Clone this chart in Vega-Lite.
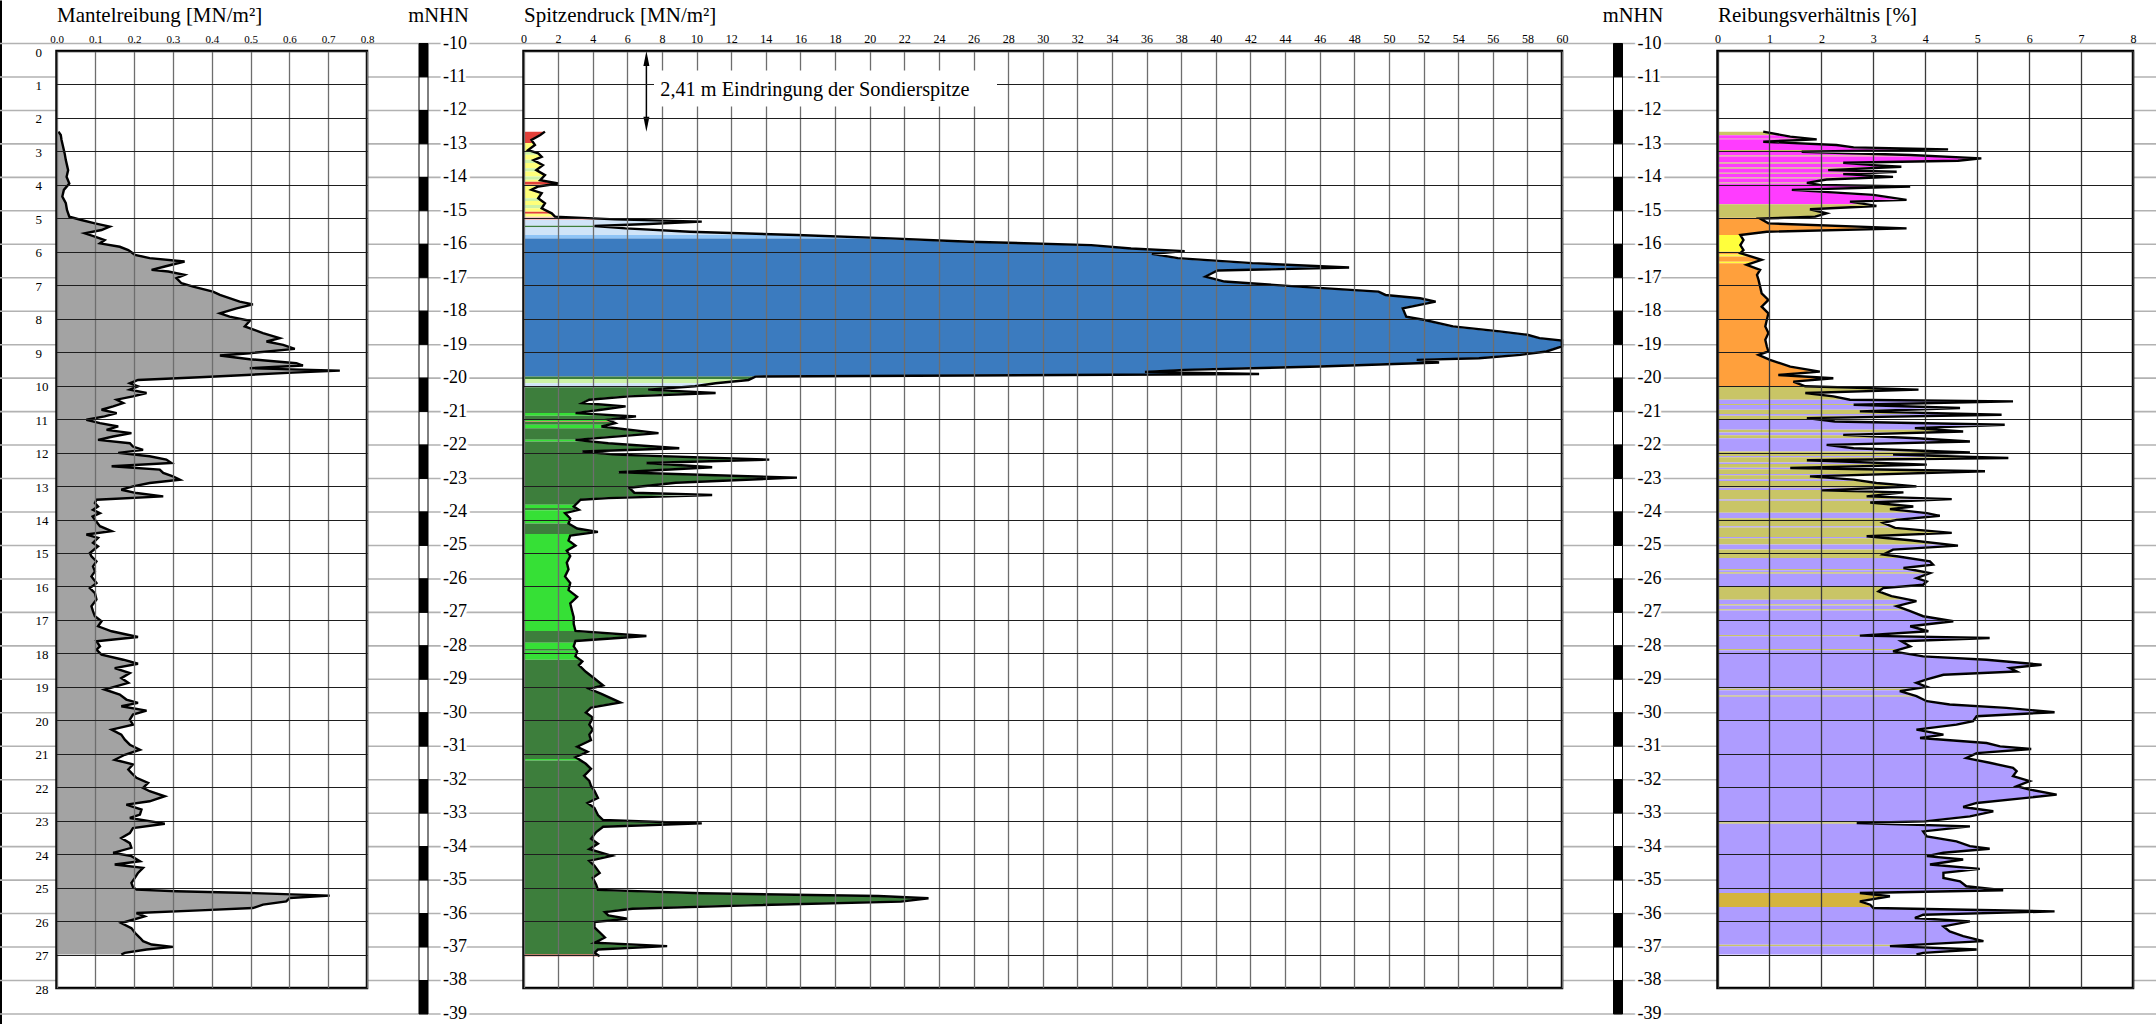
{
"$schema": "https://vega.github.io/schema/vega-lite/v6.json",
"width": 2156, "height": 1024,
"autosize": {"type": "none"},
"padding": 0,
"background": "white",
"config": {"view": {"stroke": null}, "font": "Liberation Serif", "axis": {"labelFont": "Liberation Serif", "titleFont": "Liberation Serif", "labelColor": "black", "titleColor": "black", "titleFontWeight": "normal"}, "text": {"font": "Liberation Serif"}},
"datasets": {
"mnhn": [{"m":-10},{"m":-11},{"m":-12},{"m":-13},{"m":-14},{"m":-15},{"m":-16},{"m":-17},{"m":-18},{"m":-19},{"m":-20},{"m":-21},{"m":-22},{"m":-23},{"m":-24},{"m":-25},{"m":-26},{"m":-27},{"m":-28},{"m":-29},{"m":-30},{"m":-31},{"m":-32},{"m":-33},{"m":-34},{"m":-35},{"m":-36},{"m":-37},{"m":-38},{"m":-39}],
"seg": [{"top":-10,"bot":-11,"k":"b"},{"top":-11,"bot":-12,"k":"w"},{"top":-12,"bot":-13,"k":"b"},{"top":-13,"bot":-14,"k":"w"},{"top":-14,"bot":-15,"k":"b"},{"top":-15,"bot":-16,"k":"w"},{"top":-16,"bot":-17,"k":"b"},{"top":-17,"bot":-18,"k":"w"},{"top":-18,"bot":-19,"k":"b"},{"top":-19,"bot":-20,"k":"w"},{"top":-20,"bot":-21,"k":"b"},{"top":-21,"bot":-22,"k":"w"},{"top":-22,"bot":-23,"k":"b"},{"top":-23,"bot":-24,"k":"w"},{"top":-24,"bot":-25,"k":"b"},{"top":-25,"bot":-26,"k":"w"},{"top":-26,"bot":-27,"k":"b"},{"top":-27,"bot":-28,"k":"w"},{"top":-28,"bot":-29,"k":"b"},{"top":-29,"bot":-30,"k":"w"},{"top":-30,"bot":-31,"k":"b"},{"top":-31,"bot":-32,"k":"w"},{"top":-32,"bot":-33,"k":"b"},{"top":-33,"bot":-34,"k":"w"},{"top":-34,"bot":-35,"k":"b"},{"top":-35,"bot":-36,"k":"w"},{"top":-36,"bot":-37,"k":"b"},{"top":-37,"bot":-38,"k":"w"},{"top":-38,"bot":-39,"k":"b"}],
"fs": [{"d":2.41,"v":0.005},{"d":2.51,"v":0.011},{"d":2.66,"v":0.013},{"d":2.86,"v":0.017},{"d":3.06,"v":0.021},{"d":3.26,"v":0.024},{"d":3.41,"v":0.027},{"d":3.56,"v":0.030},{"d":3.76,"v":0.026},{"d":3.96,"v":0.033},{"d":4.15,"v":0.019},{"d":4.35,"v":0.015},{"d":4.55,"v":0.024},{"d":4.75,"v":0.027},{"d":4.95,"v":0.033},{"d":5.05,"v":0.064},{"d":5.15,"v":0.099},{"d":5.25,"v":0.137},{"d":5.35,"v":0.116},{"d":5.45,"v":0.073},{"d":5.55,"v":0.099},{"d":5.65,"v":0.124},{"d":5.75,"v":0.112},{"d":5.85,"v":0.163},{"d":5.95,"v":0.185},{"d":6.09,"v":0.202},{"d":6.19,"v":0.240},{"d":6.29,"v":0.330},{"d":6.44,"v":0.279},{"d":6.54,"v":0.245},{"d":6.59,"v":0.288},{"d":6.69,"v":0.330},{"d":6.79,"v":0.309},{"d":6.94,"v":0.322},{"d":7.04,"v":0.352},{"d":7.19,"v":0.403},{"d":7.29,"v":0.421},{"d":7.49,"v":0.472},{"d":7.57,"v":0.506},{"d":7.69,"v":0.464},{"d":7.84,"v":0.421},{"d":7.94,"v":0.446},{"d":8.06,"v":0.498},{"d":8.23,"v":0.485},{"d":8.43,"v":0.532},{"d":8.58,"v":0.575},{"d":8.68,"v":0.541},{"d":8.78,"v":0.584},{"d":8.90,"v":0.614},{"d":9.03,"v":0.498},{"d":9.10,"v":0.421},{"d":9.21,"v":0.498},{"d":9.33,"v":0.618},{"d":9.40,"v":0.635},{"d":9.48,"v":0.498},{"d":9.55,"v":0.730},{"d":9.61,"v":0.609},{"d":9.68,"v":0.489},{"d":9.75,"v":0.369},{"d":9.83,"v":0.210},{"d":9.93,"v":0.189},{"d":10.02,"v":0.210},{"d":10.12,"v":0.189},{"d":10.22,"v":0.232},{"d":10.32,"v":0.197},{"d":10.42,"v":0.155},{"d":10.52,"v":0.172},{"d":10.62,"v":0.146},{"d":10.72,"v":0.116},{"d":10.82,"v":0.155},{"d":10.92,"v":0.124},{"d":11.02,"v":0.077},{"d":11.12,"v":0.112},{"d":11.22,"v":0.159},{"d":11.32,"v":0.129},{"d":11.42,"v":0.193},{"d":11.52,"v":0.146},{"d":11.62,"v":0.107},{"d":11.72,"v":0.189},{"d":11.82,"v":0.197},{"d":11.92,"v":0.223},{"d":12.01,"v":0.159},{"d":12.11,"v":0.240},{"d":12.21,"v":0.283},{"d":12.31,"v":0.296},{"d":12.41,"v":0.142},{"d":12.51,"v":0.266},{"d":12.61,"v":0.275},{"d":12.71,"v":0.300},{"d":12.81,"v":0.318},{"d":12.91,"v":0.240},{"d":13.01,"v":0.197},{"d":13.11,"v":0.167},{"d":13.21,"v":0.206},{"d":13.31,"v":0.275},{"d":13.41,"v":0.103},{"d":13.51,"v":0.099},{"d":13.61,"v":0.107},{"d":13.71,"v":0.094},{"d":13.81,"v":0.112},{"d":13.91,"v":0.093},{"d":14.01,"v":0.099},{"d":14.20,"v":0.112},{"d":14.35,"v":0.142},{"d":14.45,"v":0.077},{"d":14.55,"v":0.107},{"d":14.70,"v":0.094},{"d":14.80,"v":0.107},{"d":15.00,"v":0.086},{"d":15.10,"v":0.090},{"d":15.25,"v":0.103},{"d":15.40,"v":0.094},{"d":15.55,"v":0.099},{"d":15.70,"v":0.090},{"d":15.90,"v":0.103},{"d":16.05,"v":0.086},{"d":16.20,"v":0.099},{"d":16.39,"v":0.103},{"d":16.59,"v":0.090},{"d":16.74,"v":0.094},{"d":16.89,"v":0.099},{"d":17.04,"v":0.116},{"d":17.19,"v":0.107},{"d":17.34,"v":0.142},{"d":17.51,"v":0.210},{"d":17.64,"v":0.103},{"d":17.79,"v":0.112},{"d":17.89,"v":0.103},{"d":18.04,"v":0.116},{"d":18.19,"v":0.172},{"d":18.31,"v":0.210},{"d":18.44,"v":0.150},{"d":18.59,"v":0.189},{"d":18.74,"v":0.167},{"d":18.88,"v":0.185},{"d":19.08,"v":0.124},{"d":19.23,"v":0.163},{"d":19.38,"v":0.180},{"d":19.48,"v":0.210},{"d":19.58,"v":0.167},{"d":19.71,"v":0.232},{"d":19.83,"v":0.197},{"d":19.98,"v":0.189},{"d":20.13,"v":0.197},{"d":20.28,"v":0.142},{"d":20.43,"v":0.167},{"d":20.58,"v":0.176},{"d":20.73,"v":0.189},{"d":20.88,"v":0.215},{"d":21.03,"v":0.176},{"d":21.18,"v":0.150},{"d":21.32,"v":0.197},{"d":21.47,"v":0.185},{"d":21.57,"v":0.193},{"d":21.72,"v":0.206},{"d":21.87,"v":0.236},{"d":22.02,"v":0.223},{"d":22.12,"v":0.240},{"d":22.27,"v":0.279},{"d":22.42,"v":0.240},{"d":22.52,"v":0.180},{"d":22.67,"v":0.219},{"d":22.82,"v":0.215},{"d":22.92,"v":0.189},{"d":23.09,"v":0.279},{"d":23.22,"v":0.197},{"d":23.37,"v":0.189},{"d":23.52,"v":0.167},{"d":23.67,"v":0.189},{"d":23.81,"v":0.193},{"d":23.96,"v":0.146},{"d":24.06,"v":0.193},{"d":24.21,"v":0.215},{"d":24.31,"v":0.150},{"d":24.41,"v":0.223},{"d":24.56,"v":0.210},{"d":24.71,"v":0.202},{"d":24.86,"v":0.193},{"d":24.98,"v":0.197},{"d":25.06,"v":0.206},{"d":25.11,"v":0.309},{"d":25.16,"v":0.498},{"d":25.24,"v":0.704},{"d":25.31,"v":0.601},{"d":25.41,"v":0.592},{"d":25.51,"v":0.532},{"d":25.61,"v":0.506},{"d":25.68,"v":0.369},{"d":25.76,"v":0.206},{"d":25.86,"v":0.227},{"d":25.96,"v":0.197},{"d":26.06,"v":0.167},{"d":26.21,"v":0.193},{"d":26.35,"v":0.202},{"d":26.50,"v":0.215},{"d":26.60,"v":0.223},{"d":26.70,"v":0.245},{"d":26.77,"v":0.300},{"d":26.85,"v":0.232},{"d":26.95,"v":0.176},{"d":27.00,"v":0.167}],
"qc": [{"d":2.41,"v":1.24},{"d":2.51,"v":0.97},{"d":2.66,"v":0.46},{"d":2.81,"v":0.66},{"d":2.96,"v":0.27},{"d":3.06,"v":0.85},{"d":3.16,"v":1.05},{"d":3.26,"v":0.58},{"d":3.41,"v":1.12},{"d":3.56,"v":0.74},{"d":3.71,"v":1.24},{"d":3.86,"v":0.97},{"d":3.96,"v":2.01},{"d":4.05,"v":0.85},{"d":4.15,"v":0.46},{"d":4.25,"v":1.05},{"d":4.40,"v":0.85},{"d":4.55,"v":1.24},{"d":4.70,"v":1.05},{"d":4.85,"v":1.63},{"d":4.95,"v":1.82},{"d":5.03,"v":5.3},{"d":5.10,"v":10.3},{"d":5.17,"v":7.2},{"d":5.23,"v":4.1},{"d":5.30,"v":5.9},{"d":5.40,"v":9.6},{"d":5.50,"v":15.8},{"d":5.60,"v":21.2},{"d":5.70,"v":25.8},{"d":5.80,"v":32.8},{"d":5.90,"v":35.1},{"d":5.98,"v":38.2},{"d":6.06,"v":36.3},{"d":6.19,"v":37.8},{"d":6.34,"v":42.1},{"d":6.47,"v":47.7},{"d":6.56,"v":40.1},{"d":6.74,"v":39.4},{"d":6.89,"v":40.5},{"d":7.04,"v":44.8},{"d":7.19,"v":49.4},{"d":7.29,"v":49.8},{"d":7.39,"v":51.8},{"d":7.49,"v":52.7},{"d":7.69,"v":50.8},{"d":7.94,"v":51.0},{"d":8.03,"v":52.0},{"d":8.23,"v":53.7},{"d":8.38,"v":56.4},{"d":8.48,"v":58.0},{"d":8.58,"v":58.7},{"d":8.65,"v":60},{"d":8.83,"v":60},{"d":8.98,"v":59.1},{"d":9.08,"v":57.6},{"d":9.18,"v":55.2},{"d":9.23,"v":51.6},{"d":9.31,"v":52.9},{"d":9.43,"v":46.0},{"d":9.53,"v":38.2},{"d":9.59,"v":35.9},{"d":9.65,"v":42.5},{"d":9.73,"v":13.4},{"d":9.83,"v":13.0},{"d":9.93,"v":11.1},{"d":10.02,"v":9.9},{"d":10.12,"v":7.2},{"d":10.22,"v":11.1},{"d":10.32,"v":6.1},{"d":10.42,"v":3.8},{"d":10.52,"v":3.4},{"d":10.62,"v":5.9},{"d":10.72,"v":4.5},{"d":10.82,"v":3.0},{"d":10.92,"v":6.5},{"d":11.02,"v":4.9},{"d":11.12,"v":5.3},{"d":11.22,"v":4.5},{"d":11.42,"v":7.8},{"d":11.62,"v":3.0},{"d":11.72,"v":4.9},{"d":11.87,"v":9.0},{"d":11.97,"v":3.4},{"d":12.06,"v":5.3},{"d":12.21,"v":14.2},{"d":12.31,"v":7.1},{"d":12.44,"v":10.9},{"d":12.59,"v":5.5},{"d":12.75,"v":15.8},{"d":12.90,"v":8.8},{"d":13.05,"v":6.1},{"d":13.20,"v":6.4},{"d":13.27,"v":10.9},{"d":13.36,"v":4.9},{"d":13.41,"v":3.3},{"d":13.51,"v":3.1},{"d":13.61,"v":2.9},{"d":13.71,"v":3.2},{"d":13.81,"v":2.4},{"d":13.97,"v":2.7},{"d":14.12,"v":2.6},{"d":14.27,"v":3.1},{"d":14.37,"v":4.3},{"d":14.48,"v":2.7},{"d":14.63,"v":2.6},{"d":14.78,"v":3.0},{"d":14.93,"v":2.5},{"d":15.09,"v":2.7},{"d":15.29,"v":2.5},{"d":15.49,"v":2.6},{"d":15.70,"v":2.4},{"d":15.90,"v":2.7},{"d":16.11,"v":2.6},{"d":16.31,"v":3.1},{"d":16.51,"v":2.7},{"d":16.72,"v":2.8},{"d":16.92,"v":2.9},{"d":17.12,"v":2.9},{"d":17.33,"v":3.0},{"d":17.48,"v":7.1},{"d":17.63,"v":3.0},{"d":17.79,"v":2.9},{"d":17.94,"v":3.1},{"d":18.09,"v":3.0},{"d":18.24,"v":3.4},{"d":18.35,"v":3.2},{"d":18.55,"v":3.6},{"d":18.75,"v":4.1},{"d":18.96,"v":4.6},{"d":19.06,"v":3.8},{"d":19.21,"v":4.5},{"d":19.47,"v":5.6},{"d":19.62,"v":3.9},{"d":19.77,"v":3.6},{"d":19.92,"v":4.0},{"d":20.13,"v":3.8},{"d":20.28,"v":4.0},{"d":20.43,"v":3.8},{"d":20.59,"v":3.9},{"d":20.79,"v":3.1},{"d":20.94,"v":3.7},{"d":21.10,"v":3.0},{"d":21.30,"v":3.6},{"d":21.45,"v":3.9},{"d":21.66,"v":3.5},{"d":21.81,"v":3.8},{"d":21.96,"v":3.9},{"d":22.11,"v":4.1},{"d":22.32,"v":4.3},{"d":22.47,"v":3.7},{"d":22.62,"v":4.1},{"d":22.83,"v":4.3},{"d":22.98,"v":4.6},{"d":23.08,"v":10.3},{"d":23.18,"v":4.6},{"d":23.34,"v":4.2},{"d":23.54,"v":3.9},{"d":23.69,"v":4.3},{"d":23.85,"v":3.8},{"d":24.05,"v":5.1},{"d":24.20,"v":3.8},{"d":24.35,"v":4.1},{"d":24.56,"v":4.4},{"d":24.71,"v":4.0},{"d":24.91,"v":4.2},{"d":25.07,"v":4.3},{"d":25.17,"v":10.3},{"d":25.25,"v":20.5},{"d":25.32,"v":23.4},{"d":25.42,"v":21.8},{"d":25.53,"v":13.0},{"d":25.63,"v":6.3},{"d":25.73,"v":4.7},{"d":25.83,"v":4.9},{"d":25.93,"v":6.0},{"d":26.03,"v":4.1},{"d":26.19,"v":4.1},{"d":26.34,"v":4.4},{"d":26.49,"v":4.7},{"d":26.65,"v":4.1},{"d":26.75,"v":8.3},{"d":26.85,"v":4.3},{"d":26.95,"v":4.1},{"d":27.05,"v":4.4}],
"rf": [{"d":2.41,"v":0.88},{"d":2.56,"v":1.40},{"d":2.64,"v":1.91},{"d":2.71,"v":0.88},{"d":2.81,"v":2.29},{"d":2.88,"v":2.62},{"d":2.94,"v":4.44},{"d":3.01,"v":1.62},{"d":3.11,"v":3.71},{"d":3.21,"v":5.08},{"d":3.28,"v":4.63},{"d":3.34,"v":2.42},{"d":3.41,"v":3.00},{"d":3.46,"v":3.54},{"d":3.56,"v":2.13},{"d":3.61,"v":3.45},{"d":3.68,"v":2.42},{"d":3.76,"v":3.38},{"d":3.84,"v":2.10},{"d":3.94,"v":1.72},{"d":4.00,"v":1.97},{"d":4.05,"v":3.71},{"d":4.15,"v":1.43},{"d":4.30,"v":3.00},{"d":4.45,"v":3.64},{"d":4.50,"v":2.55},{"d":4.63,"v":3.06},{"d":4.73,"v":1.78},{"d":4.85,"v":2.10},{"d":4.95,"v":1.88},{"d":5.01,"v":0.82},{"d":5.15,"v":0.98},{"d":5.30,"v":3.64},{"d":5.40,"v":0.95},{"d":5.50,"v":0.44},{"d":5.65,"v":0.50},{"d":5.80,"v":0.44},{"d":5.95,"v":0.50},{"d":6.04,"v":0.44},{"d":6.24,"v":0.85},{"d":6.39,"v":0.56},{"d":6.54,"v":0.82},{"d":6.69,"v":0.76},{"d":6.84,"v":0.79},{"d":7.04,"v":0.82},{"d":7.24,"v":0.85},{"d":7.44,"v":0.98},{"d":7.64,"v":0.85},{"d":7.84,"v":0.98},{"d":8.03,"v":0.95},{"d":8.23,"v":0.92},{"d":8.43,"v":0.98},{"d":8.63,"v":0.92},{"d":8.83,"v":0.95},{"d":8.98,"v":0.98},{"d":9.08,"v":0.79},{"d":9.23,"v":1.01},{"d":9.43,"v":1.40},{"d":9.58,"v":1.97},{"d":9.68,"v":1.17},{"d":9.78,"v":2.23},{"d":9.88,"v":1.46},{"d":10.02,"v":1.69},{"d":10.12,"v":3.87},{"d":10.22,"v":1.69},{"d":10.32,"v":2.23},{"d":10.42,"v":2.55},{"d":10.47,"v":5.69},{"d":10.57,"v":2.62},{"d":10.67,"v":4.67},{"d":10.77,"v":2.74},{"d":10.87,"v":5.47},{"d":10.97,"v":1.72},{"d":11.07,"v":2.26},{"d":11.17,"v":5.53},{"d":11.27,"v":3.80},{"d":11.37,"v":4.73},{"d":11.47,"v":2.42},{"d":11.57,"v":3.83},{"d":11.67,"v":4.86},{"d":11.77,"v":2.10},{"d":11.87,"v":2.62},{"d":12.00,"v":4.86},{"d":12.06,"v":3.38},{"d":12.16,"v":5.60},{"d":12.23,"v":1.72},{"d":12.36,"v":4.03},{"d":12.46,"v":1.40},{"d":12.56,"v":5.15},{"d":12.71,"v":1.78},{"d":12.81,"v":2.62},{"d":12.91,"v":3.06},{"d":13.01,"v":3.83},{"d":13.13,"v":2.01},{"d":13.19,"v":3.58},{"d":13.31,"v":2.87},{"d":13.39,"v":4.51},{"d":13.49,"v":2.94},{"d":13.61,"v":3.77},{"d":13.69,"v":3.32},{"d":13.81,"v":4.03},{"d":13.89,"v":4.28},{"d":14.01,"v":3.45},{"d":14.10,"v":3.19},{"d":14.25,"v":3.42},{"d":14.40,"v":4.51},{"d":14.50,"v":2.87},{"d":14.62,"v":3.71},{"d":14.78,"v":4.63},{"d":14.90,"v":3.38},{"d":15.05,"v":3.19},{"d":15.10,"v":3.45},{"d":15.25,"v":4.09},{"d":15.35,"v":4.15},{"d":15.45,"v":3.58},{"d":15.60,"v":4.09},{"d":15.75,"v":3.83},{"d":15.85,"v":4.03},{"d":15.95,"v":3.96},{"d":16.05,"v":3.19},{"d":16.15,"v":3.10},{"d":16.29,"v":3.35},{"d":16.44,"v":3.83},{"d":16.59,"v":3.45},{"d":16.74,"v":3.71},{"d":16.89,"v":3.96},{"d":17.04,"v":4.54},{"d":17.19,"v":3.71},{"d":17.34,"v":4.06},{"d":17.47,"v":2.74},{"d":17.54,"v":5.24},{"d":17.64,"v":3.54},{"d":17.79,"v":3.71},{"d":17.94,"v":3.38},{"d":18.09,"v":3.96},{"d":18.19,"v":5.18},{"d":18.34,"v":6.24},{"d":18.44,"v":5.63},{"d":18.54,"v":5.76},{"d":18.64,"v":4.35},{"d":18.78,"v":4.03},{"d":18.88,"v":3.83},{"d":19.00,"v":4.03},{"d":19.13,"v":3.51},{"d":19.28,"v":3.83},{"d":19.43,"v":4.03},{"d":19.53,"v":4.47},{"d":19.63,"v":5.56},{"d":19.76,"v":6.49},{"d":19.88,"v":4.99},{"d":20.03,"v":4.92},{"d":20.13,"v":4.60},{"d":20.28,"v":3.83},{"d":20.43,"v":4.35},{"d":20.53,"v":3.90},{"d":20.68,"v":5.18},{"d":20.78,"v":5.44},{"d":20.86,"v":6.04},{"d":20.98,"v":4.99},{"d":21.13,"v":4.79},{"d":21.27,"v":5.24},{"d":21.42,"v":5.69},{"d":21.52,"v":5.76},{"d":21.67,"v":5.69},{"d":21.82,"v":6.01},{"d":21.97,"v":5.76},{"d":22.07,"v":6.01},{"d":22.22,"v":6.53},{"d":22.32,"v":5.95},{"d":22.47,"v":4.99},{"d":22.59,"v":4.73},{"d":22.72,"v":5.31},{"d":22.87,"v":4.86},{"d":23.02,"v":3.99},{"d":23.07,"v":2.68},{"d":23.17,"v":4.86},{"d":23.32,"v":3.96},{"d":23.47,"v":4.03},{"d":23.62,"v":4.60},{"d":23.76,"v":4.86},{"d":23.84,"v":5.24},{"d":23.96,"v":4.35},{"d":24.06,"v":4.03},{"d":24.16,"v":4.73},{"d":24.31,"v":4.09},{"d":24.44,"v":5.05},{"d":24.56,"v":4.35},{"d":24.71,"v":4.35},{"d":24.81,"v":4.67},{"d":24.96,"v":4.79},{"d":25.08,"v":5.50},{"d":25.16,"v":2.74},{"d":25.26,"v":3.32},{"d":25.41,"v":2.74},{"d":25.51,"v":2.94},{"d":25.61,"v":3.00},{"d":25.71,"v":6.49},{"d":25.81,"v":3.96},{"d":25.91,"v":3.80},{"d":26.01,"v":4.86},{"d":26.16,"v":4.35},{"d":26.31,"v":4.47},{"d":26.45,"v":4.73},{"d":26.60,"v":5.12},{"d":26.75,"v":3.32},{"d":26.85,"v":4.99},{"d":26.95,"v":3.96},{"d":27.00,"v":3.83}],
"qcl": [{"top":2.41,"bot":2.75,"c":"R"},{"top":2.75,"bot":3.01,"c":"Y"},{"top":3.01,"bot":3.10,"c":"LG"},{"top":3.10,"bot":3.25,"c":"Y"},{"top":3.25,"bot":3.35,"c":"LG"},{"top":3.35,"bot":3.50,"c":"Y"},{"top":3.50,"bot":3.60,"c":"LG"},{"top":3.60,"bot":3.75,"c":"Y"},{"top":3.75,"bot":3.85,"c":"LG"},{"top":3.85,"bot":3.91,"c":"Y"},{"top":3.91,"bot":4.00,"c":"R"},{"top":4.00,"bot":4.40,"c":"Y"},{"top":4.40,"bot":4.48,"c":"LG"},{"top":4.48,"bot":4.60,"c":"Y"},{"top":4.60,"bot":4.70,"c":"LG"},{"top":4.70,"bot":4.80,"c":"Y"},{"top":4.80,"bot":4.86,"c":"R"},{"top":4.86,"bot":4.95,"c":"Y"},{"top":4.95,"bot":5.05,"c":"PK"},{"top":5.05,"bot":5.22,"c":"LB"},{"top":5.22,"bot":5.27,"c":"DG"},{"top":5.27,"bot":5.50,"c":"LB"},{"top":5.50,"bot":5.60,"c":"MB"},{"top":5.60,"bot":9.73,"c":"B"},{"top":9.73,"bot":9.80,"c":"DG"},{"top":9.80,"bot":9.93,"c":"LG"},{"top":9.93,"bot":10.05,"c":"LB"},{"top":10.05,"bot":10.82,"c":"DG"},{"top":10.82,"bot":10.90,"c":"BG"},{"top":10.90,"bot":11.02,"c":"DG"},{"top":11.02,"bot":11.07,"c":"BG"},{"top":11.07,"bot":11.09,"c":"R"},{"top":11.09,"bot":11.17,"c":"DG"},{"top":11.17,"bot":11.27,"c":"BG"},{"top":11.27,"bot":11.62,"c":"DG"},{"top":11.62,"bot":11.67,"c":"BG"},{"top":11.67,"bot":13.56,"c":"DG"},{"top":13.56,"bot":13.66,"c":"BG"},{"top":13.66,"bot":13.72,"c":"DG"},{"top":13.72,"bot":14.12,"c":"BG"},{"top":14.12,"bot":14.43,"c":"DG"},{"top":14.43,"bot":17.33,"c":"BG"},{"top":17.33,"bot":17.68,"c":"DG"},{"top":17.68,"bot":17.87,"c":"BG"},{"top":17.87,"bot":17.92,"c":"DG"},{"top":17.92,"bot":18.19,"c":"BG"},{"top":18.19,"bot":21.16,"c":"DG"},{"top":21.16,"bot":21.20,"c":"BG"},{"top":21.20,"bot":27.00,"c":"DG"},{"top":27.00,"bot":27.05,"c":"R"}],
"rfl": [{"top":2.41,"bot":2.52,"c":"K"},{"top":2.52,"bot":2.62,"c":"M"},{"top":2.62,"bot":2.64,"c":"K"},{"top":2.64,"bot":2.96,"c":"M"},{"top":2.96,"bot":2.99,"c":"K"},{"top":2.99,"bot":3.12,"c":"M"},{"top":3.12,"bot":3.15,"c":"K"},{"top":3.15,"bot":3.33,"c":"M"},{"top":3.33,"bot":3.37,"c":"K"},{"top":3.37,"bot":3.48,"c":"M"},{"top":3.48,"bot":3.52,"c":"K"},{"top":3.52,"bot":3.64,"c":"M"},{"top":3.64,"bot":3.67,"c":"K"},{"top":3.67,"bot":3.78,"c":"M"},{"top":3.78,"bot":3.81,"c":"K"},{"top":3.81,"bot":3.93,"c":"M"},{"top":3.93,"bot":3.96,"c":"K"},{"top":3.96,"bot":4.58,"c":"M"},{"top":4.58,"bot":4.98,"c":"K"},{"top":4.98,"bot":5.50,"c":"O"},{"top":5.50,"bot":6.00,"c":"Y"},{"top":6.00,"bot":6.08,"c":"O"},{"top":6.08,"bot":6.14,"c":"Y"},{"top":6.14,"bot":6.30,"c":"O"},{"top":6.30,"bot":6.34,"c":"Y"},{"top":6.34,"bot":10.02,"c":"O"},{"top":10.02,"bot":10.42,"c":"K"},{"top":10.42,"bot":10.55,"c":"P"},{"top":10.55,"bot":10.58,"c":"K"},{"top":10.58,"bot":10.72,"c":"P"},{"top":10.72,"bot":10.85,"c":"K"},{"top":10.85,"bot":10.90,"c":"P"},{"top":10.90,"bot":11.02,"c":"K"},{"top":11.02,"bot":11.32,"c":"P"},{"top":11.32,"bot":11.40,"c":"K"},{"top":11.40,"bot":11.48,"c":"P"},{"top":11.48,"bot":11.57,"c":"K"},{"top":11.57,"bot":11.97,"c":"P"},{"top":11.97,"bot":12.10,"c":"K"},{"top":12.10,"bot":12.14,"c":"P"},{"top":12.14,"bot":12.30,"c":"K"},{"top":12.30,"bot":12.34,"c":"P"},{"top":12.34,"bot":12.45,"c":"K"},{"top":12.45,"bot":12.50,"c":"P"},{"top":12.50,"bot":12.64,"c":"K"},{"top":12.64,"bot":12.68,"c":"P"},{"top":12.68,"bot":12.80,"c":"K"},{"top":12.80,"bot":12.85,"c":"P"},{"top":12.85,"bot":13.05,"c":"K"},{"top":13.05,"bot":13.12,"c":"P"},{"top":13.12,"bot":13.40,"c":"K"},{"top":13.40,"bot":13.44,"c":"P"},{"top":13.44,"bot":13.80,"c":"K"},{"top":13.80,"bot":13.96,"c":"P"},{"top":13.96,"bot":14.20,"c":"K"},{"top":14.20,"bot":14.24,"c":"P"},{"top":14.24,"bot":14.52,"c":"K"},{"top":14.52,"bot":14.56,"c":"P"},{"top":14.56,"bot":14.75,"c":"K"},{"top":14.75,"bot":14.90,"c":"P"},{"top":14.90,"bot":15.15,"c":"K"},{"top":15.15,"bot":15.48,"c":"P"},{"top":15.48,"bot":15.52,"c":"K"},{"top":15.52,"bot":15.58,"c":"P"},{"top":15.58,"bot":15.62,"c":"K"},{"top":15.62,"bot":16.00,"c":"P"},{"top":16.00,"bot":16.40,"c":"K"},{"top":16.40,"bot":16.53,"c":"P"},{"top":16.53,"bot":16.57,"c":"K"},{"top":16.57,"bot":16.68,"c":"P"},{"top":16.68,"bot":16.72,"c":"K"},{"top":16.72,"bot":17.45,"c":"P"},{"top":17.45,"bot":17.49,"c":"K"},{"top":17.49,"bot":17.87,"c":"P"},{"top":17.87,"bot":17.91,"c":"K"},{"top":17.91,"bot":19.06,"c":"P"},{"top":19.06,"bot":19.10,"c":"K"},{"top":19.10,"bot":19.26,"c":"P"},{"top":19.26,"bot":19.30,"c":"K"},{"top":19.30,"bot":23.05,"c":"P"},{"top":23.05,"bot":23.09,"c":"K"},{"top":23.09,"bot":25.16,"c":"P"},{"top":25.16,"bot":25.58,"c":"G"},{"top":25.58,"bot":26.71,"c":"P"},{"top":26.71,"bot":26.75,"c":"K"},{"top":26.75,"bot":27.00,"c":"P"}]
},
"layer": [
{"data": {"name": "mnhn"}, "mark": {"type": "rule", "color": "#b2b2b2", "strokeWidth": 1.6},
 "encoding": {"y": {"field": "m", "type": "quantitative", "scale": {"domain": [-39.3, -8.7], "range": [1024, 0], "nice": false, "zero": false},
   "axis": {"orient": "left", "offset": 0, "domain": true, "domainColor": "black", "domainWidth": 3, "labels": false, "ticks": false, "grid": false, "title": null}}}},
{"data": {"name": "seg"}, "mark": {"type": "rect", "stroke": "black", "strokeWidth": 1},
 "encoding": {"x": {"datum": 0, "type": "quantitative", "scale": {"domain": [0, 1], "range": [419, 428], "nice": false, "zero": false}, "axis": null}, "x2": {"datum": 1},
   "y": {"field": "top", "type": "quantitative", "scale": {"domain": [-39.3, -8.7], "range": [1024, 0], "nice": false, "zero": false}, "axis": null}, "y2": {"field": "bot"},
   "fill": {"field": "k", "type": "nominal", "scale": {"domain": ["b", "w"], "range": ["black", "white"]}, "legend": null}}},
{"data": {"name": "mnhn"}, "mark": {"type": "text", "align": "left", "baseline": "middle", "dx": 15, "fontSize": 18, "fill": "white", "stroke": "white", "strokeWidth": 6},
 "encoding": {"x": {"datum": 1, "type": "quantitative", "scale": {"domain": [0, 1], "range": [419, 428], "nice": false, "zero": false}, "axis": null}, "y": {"field": "m", "type": "quantitative", "scale": {"domain": [-39.3, -8.7], "range": [1024, 0], "nice": false, "zero": false}, "axis": null}, "text": {"field": "m", "type": "nominal"}}},
{"data": {"name": "mnhn"}, "mark": {"type": "text", "align": "left", "baseline": "middle", "dx": 15, "fontSize": 18, "fill": "black"},
 "encoding": {"x": {"datum": 1, "type": "quantitative", "scale": {"domain": [0, 1], "range": [419, 428], "nice": false, "zero": false}, "axis": null}, "y": {"field": "m", "type": "quantitative", "scale": {"domain": [-39.3, -8.7], "range": [1024, 0], "nice": false, "zero": false}, "axis": null}, "text": {"field": "m", "type": "nominal"}}},
{"data": {"values": [{"t": "mNHN"}]}, "mark": {"type": "text", "align": "center", "baseline": "alphabetic", "dx": 15, "fontSize": 20.5, "fill": "black"},
 "encoding": {"x": {"datum": 0.5, "type": "quantitative", "scale": {"domain": [0, 1], "range": [419, 428], "nice": false, "zero": false}, "axis": null}, "y": {"datum": -9.36, "type": "quantitative", "scale": {"domain": [-39.3, -8.7], "range": [1024, 0], "nice": false, "zero": false}, "axis": null}, "text": {"field": "t"}}},
{"data": {"name": "seg"}, "mark": {"type": "rect", "stroke": "black", "strokeWidth": 1},
 "encoding": {"x": {"datum": 0, "type": "quantitative", "scale": {"domain": [0, 1], "range": [1613.5, 1622.5], "nice": false, "zero": false}, "axis": null}, "x2": {"datum": 1},
   "y": {"field": "top", "type": "quantitative", "scale": {"domain": [-39.3, -8.7], "range": [1024, 0], "nice": false, "zero": false}, "axis": null}, "y2": {"field": "bot"},
   "fill": {"field": "k", "type": "nominal", "scale": {"domain": ["b", "w"], "range": ["black", "white"]}, "legend": null}}},
{"data": {"name": "mnhn"}, "mark": {"type": "text", "align": "left", "baseline": "middle", "dx": 15, "fontSize": 18, "fill": "white", "stroke": "white", "strokeWidth": 6},
 "encoding": {"x": {"datum": 1, "type": "quantitative", "scale": {"domain": [0, 1], "range": [1613.5, 1622.5], "nice": false, "zero": false}, "axis": null}, "y": {"field": "m", "type": "quantitative", "scale": {"domain": [-39.3, -8.7], "range": [1024, 0], "nice": false, "zero": false}, "axis": null}, "text": {"field": "m", "type": "nominal"}}},
{"data": {"name": "mnhn"}, "mark": {"type": "text", "align": "left", "baseline": "middle", "dx": 15, "fontSize": 18, "fill": "black"},
 "encoding": {"x": {"datum": 1, "type": "quantitative", "scale": {"domain": [0, 1], "range": [1613.5, 1622.5], "nice": false, "zero": false}, "axis": null}, "y": {"field": "m", "type": "quantitative", "scale": {"domain": [-39.3, -8.7], "range": [1024, 0], "nice": false, "zero": false}, "axis": null}, "text": {"field": "m", "type": "nominal"}}},
{"data": {"values": [{"t": "mNHN"}]}, "mark": {"type": "text", "align": "center", "baseline": "alphabetic", "dx": 15, "fontSize": 20.5, "fill": "black"},
 "encoding": {"x": {"datum": 0.5, "type": "quantitative", "scale": {"domain": [0, 1], "range": [1613.5, 1622.5], "nice": false, "zero": false}, "axis": null}, "y": {"datum": -9.36, "type": "quantitative", "scale": {"domain": [-39.3, -8.7], "range": [1024, 0], "nice": false, "zero": false}, "axis": null}, "text": {"field": "t"}}},

{"data": {"values": [{}]}, "mark": {"type": "rect", "fill": "white"},
 "encoding": {"x": {"datum": 0, "type": "quantitative", "scale": {"domain": [0, 0.8], "range": [56.5, 367], "nice": false, "zero": false}, "axis": null}, "x2": {"datum": 0.8},
   "y": {"datum": 0, "type": "quantitative", "scale": {"domain": [0, 28], "range": [51, 988], "nice": false, "zero": false}, "axis": null}, "y2": {"datum": 28}}},
{"data": {"name": "fs"}, "mark": {"type": "area", "orient": "horizontal", "fill": "#a3a3a3"},
 "encoding": {"y": {"field": "d", "type": "quantitative", "scale": {"domain": [0, 28], "range": [51, 988], "nice": false, "zero": false}, "axis": null},
   "x": {"field": "v", "type": "quantitative", "scale": {"domain": [0, 0.8], "range": [56.5, 367], "nice": false, "zero": false}, "axis": null}, "x2": {"datum": 0}}},
{"data": {"name": "fs"}, "mark": {"type": "line", "color": "black", "strokeWidth": 2.4},
 "encoding": {
   "x": {"field": "v", "type": "quantitative", "scale": {"domain": [0, 0.8], "range": [56.5, 367], "nice": false, "zero": false},
     "axis": {"orient": "top", "offset": -43.3, "values": [0, 0.1, 0.2, 0.3, 0.4, 0.5, 0.6, 0.7, 0.8], "format": ".1f", "domain": false, "ticks": false, "labelPadding": 0.5, "labelBaseline": "alphabetic", "labelFontSize": 11, "labelFlush": false, "labelOverlap": false, "labelBound": false, "grid": true, "gridColor": "#6e6e6e", "gridWidth": 1.3, "title": "Mantelreibung [MN/m²]", "titleFontSize": 21, "titleAnchor": "start", "titleAlign": "left", "titleBaseline": "alphabetic", "titleY": -21.5, "zindex": 1}},
   "y": {"field": "d", "type": "quantitative", "scale": {"domain": [0, 28], "range": [51, 988], "nice": false, "zero": false},
     "axis": {"orient": "left", "offset": -35, "values": [0,1,2,3,4,5,6,7,8,9,10,11,12,13,14,15,16,17,18,19,20,21,22,23,24,25,26,27,28], "format": "d", "domain": false, "ticks": false, "labelAlign": "left", "labelBaseline": "middle", "labelPadding": 0, "labelOffset": 1, "labelFontSize": 13, "labelFlush": false, "labelOverlap": false, "labelBound": false, "grid": true, "gridColor": "#1e1e1e", "gridWidth": 1.2, "title": null, "zindex": 1}},
   "order": {"field": "d", "type": "quantitative"}}},
{"data": {"values": [{}]}, "mark": {"type": "rect", "fillOpacity": 0, "stroke": "black", "strokeWidth": 2.5},
 "encoding": {"x": {"datum": 0, "type": "quantitative", "scale": {"domain": [0, 0.8], "range": [56.5, 367], "nice": false, "zero": false}, "axis": null}, "x2": {"datum": 0.8},
   "y": {"datum": 0, "type": "quantitative", "scale": {"domain": [0, 28], "range": [51, 988], "nice": false, "zero": false}, "axis": null}, "y2": {"datum": 28}}},

{"data": {"values": [{}]}, "mark": {"type": "rect", "fill": "white"},
 "encoding": {"x": {"datum": 0, "type": "quantitative", "scale": {"domain": [0, 60], "range": [523.5, 1562], "nice": false, "zero": false}, "axis": null}, "x2": {"datum": 60},
   "y": {"datum": 0, "type": "quantitative", "scale": {"domain": [0, 28], "range": [51, 988], "nice": false, "zero": false}, "axis": null}, "y2": {"datum": 28}}},
{"data": {"name": "qcl"}, "mark": {"type": "rect"},
 "encoding": {"x": {"datum": 0, "type": "quantitative", "scale": {"domain": [0, 60], "range": [523.5, 1562], "nice": false, "zero": false}, "axis": null}, "x2": {"datum": 60},
   "y": {"field": "top", "type": "quantitative", "scale": {"domain": [0, 28], "range": [51, 988], "nice": false, "zero": false}, "axis": null}, "y2": {"field": "bot"},
   "fill": {"field": "c", "type": "nominal", "scale": {"domain": ["R", "Y", "LG", "PK", "LB", "MB", "B", "DG", "BG"], "range": ["#e2403a", "#ffff7a", "#cdf2a6", "#f4c0c0", "#d0e4f8", "#8fc4f6", "#3b7bbf", "#3d7e3c", "#36e036"]}, "legend": null}}},
{"data": {"name": "qc"}, "mark": {"type": "area", "orient": "horizontal", "fill": "white", "stroke": "white", "strokeWidth": 1.5},
 "encoding": {"y": {"field": "d", "type": "quantitative", "scale": {"domain": [0, 28], "range": [51, 988], "nice": false, "zero": false}, "axis": null},
   "x": {"field": "v", "type": "quantitative", "scale": {"domain": [0, 60], "range": [523.5, 1562], "nice": false, "zero": false}, "axis": null}, "x2": {"datum": 60}}},
{"data": {"name": "qc"}, "mark": {"type": "line", "color": "black", "strokeWidth": 2.4},
 "encoding": {
   "x": {"field": "v", "type": "quantitative", "scale": {"domain": [0, 60], "range": [523.5, 1562], "nice": false, "zero": false},
     "axis": {"orient": "top", "offset": -43.3, "values": [0,2,4,6,8,10,12,14,16,18,20,22,24,26,28,30,32,34,36,38,40,42,44,46,48,50,52,54,56,58,60], "format": "d", "domain": false, "ticks": false, "labelPadding": 0.5, "labelBaseline": "alphabetic", "labelFontSize": 12, "labelFlush": false, "labelOverlap": false, "labelBound": false, "grid": true, "gridColor": "#6e6e6e", "gridWidth": 1.3,
       "gridDash": {"condition": {"test": "datum.value >= 8 && datum.value <= 26", "value": [19, 36, 2000]}, "value": []},
       "title": "Spitzendruck [MN/m²]", "titleFontSize": 21, "titleAnchor": "start", "titleAlign": "left", "titleBaseline": "alphabetic", "titleY": -21.5, "zindex": 1}},
   "y": {"field": "d", "type": "quantitative", "scale": {"domain": [0, 28], "range": [51, 988], "nice": false, "zero": false},
     "axis": {"orient": "left", "offset": 0, "values": [0,1,2,3,4,5,6,7,8,9,10,11,12,13,14,15,16,17,18,19,20,21,22,23,24,25,26,27,28], "domain": false, "ticks": false, "labels": false, "grid": true, "gridColor": "#1e1e1e", "gridWidth": 1.2,
       "gridDash": {"condition": {"test": "datum.value == 1", "value": [130, 343, 2000]}, "value": []}, "title": null, "zindex": 1}},
   "order": {"field": "d", "type": "quantitative"}}},
{"data": {"values": [{}]}, "mark": {"type": "rect", "fillOpacity": 0, "stroke": "black", "strokeWidth": 2.5},
 "encoding": {"x": {"datum": 0, "type": "quantitative", "scale": {"domain": [0, 60], "range": [523.5, 1562], "nice": false, "zero": false}, "axis": null}, "x2": {"datum": 60},
   "y": {"datum": 0, "type": "quantitative", "scale": {"domain": [0, 28], "range": [51, 988], "nice": false, "zero": false}, "axis": null}, "y2": {"datum": 28}}},
{"data": {"values": [{}]}, "mark": {"type": "rule", "color": "black", "strokeWidth": 1.5},
 "encoding": {"x": {"datum": 7.1, "type": "quantitative", "scale": {"domain": [0, 60], "range": [523.5, 1562], "nice": false, "zero": false}, "axis": null},
   "y": {"datum": 0.2, "type": "quantitative", "scale": {"domain": [0, 28], "range": [51, 988], "nice": false, "zero": false}, "axis": null}, "y2": {"datum": 2.2}}},
{"data": {"values": [{}]}, "mark": {"type": "point", "shape": "M0,0L0.4,2L-0.4,2Z", "filled": true, "color": "black", "size": 225, "opacity": 1, "strokeWidth": 0},
 "encoding": {"x": {"datum": 7.1, "type": "quantitative", "scale": {"domain": [0, 60], "range": [523.5, 1562], "nice": false, "zero": false}, "axis": null},
   "y": {"datum": 0, "type": "quantitative", "scale": {"domain": [0, 28], "range": [51, 988], "nice": false, "zero": false}, "axis": null}}},
{"data": {"values": [{}]}, "mark": {"type": "point", "shape": "M0,0L0.4,-2L-0.4,-2Z", "filled": true, "color": "black", "size": 225, "opacity": 1, "strokeWidth": 0},
 "encoding": {"x": {"datum": 7.1, "type": "quantitative", "scale": {"domain": [0, 60], "range": [523.5, 1562], "nice": false, "zero": false}, "axis": null},
   "y": {"datum": 2.41, "type": "quantitative", "scale": {"domain": [0, 28], "range": [51, 988], "nice": false, "zero": false}, "axis": null}}},
{"data": {"values": [{"t": "2,41 m Eindringung der Sondierspitze"}]}, "mark": {"type": "text", "align": "left", "baseline": "alphabetic", "fontSize": 20.3, "fill": "black"},
 "encoding": {"x": {"datum": 7.9, "type": "quantitative", "scale": {"domain": [0, 60], "range": [523.5, 1562], "nice": false, "zero": false}, "axis": null},
   "y": {"datum": 1.33, "type": "quantitative", "scale": {"domain": [0, 28], "range": [51, 988], "nice": false, "zero": false}, "axis": null}, "text": {"field": "t"}}},

{"data": {"values": [{}]}, "mark": {"type": "rect", "fill": "white"},
 "encoding": {"x": {"datum": 0, "type": "quantitative", "scale": {"domain": [0, 8], "range": [1717.5, 2133], "nice": false, "zero": false}, "axis": null}, "x2": {"datum": 8},
   "y": {"datum": 0, "type": "quantitative", "scale": {"domain": [0, 28], "range": [51, 988], "nice": false, "zero": false}, "axis": null}, "y2": {"datum": 28}}},
{"data": {"name": "rfl"}, "mark": {"type": "rect"},
 "encoding": {"x": {"datum": 0, "type": "quantitative", "scale": {"domain": [0, 8], "range": [1717.5, 2133], "nice": false, "zero": false}, "axis": null}, "x2": {"datum": 8},
   "y": {"field": "top", "type": "quantitative", "scale": {"domain": [0, 28], "range": [51, 988], "nice": false, "zero": false}, "axis": null}, "y2": {"field": "bot"},
   "fill": {"field": "c", "type": "nominal", "scale": {"domain": ["M", "K", "Y", "O", "P", "G"], "range": ["#ff3cff", "#c9c566", "#ffff3c", "#ffa03c", "#ae9cff", "#d5b43e"]}, "legend": null}}},
{"data": {"name": "rf"}, "mark": {"type": "area", "orient": "horizontal", "fill": "white", "stroke": "white", "strokeWidth": 1.5},
 "encoding": {"y": {"field": "d", "type": "quantitative", "scale": {"domain": [0, 28], "range": [51, 988], "nice": false, "zero": false}, "axis": null},
   "x": {"field": "v", "type": "quantitative", "scale": {"domain": [0, 8], "range": [1717.5, 2133], "nice": false, "zero": false}, "axis": null}, "x2": {"datum": 8}}},
{"data": {"name": "rf"}, "mark": {"type": "line", "color": "black", "strokeWidth": 2.4},
 "encoding": {
   "x": {"field": "v", "type": "quantitative", "scale": {"domain": [0, 8], "range": [1717.5, 2133], "nice": false, "zero": false},
     "axis": {"orient": "top", "offset": -43.3, "values": [0,1,2,3,4,5,6,7,8], "format": "d", "domain": false, "ticks": false, "labelPadding": 0.5, "labelBaseline": "alphabetic", "labelFontSize": 12, "labelFlush": false, "labelOverlap": false, "labelBound": false, "grid": true, "gridColor": "#3a3a3a", "gridWidth": 1.3,
       "title": "Reibungsverhältnis [%]", "titleFontSize": 21, "titleAnchor": "start", "titleAlign": "left", "titleBaseline": "alphabetic", "titleY": -21.5, "zindex": 1}},
   "y": {"field": "d", "type": "quantitative", "scale": {"domain": [0, 28], "range": [51, 988], "nice": false, "zero": false},
     "axis": {"orient": "left", "offset": 0, "values": [0,1,2,3,4,5,6,7,8,9,10,11,12,13,14,15,16,17,18,19,20,21,22,23,24,25,26,27,28], "domain": false, "ticks": false, "labels": false, "grid": true, "gridColor": "#1e1e1e", "gridWidth": 1.2, "title": null, "zindex": 1}},
   "order": {"field": "d", "type": "quantitative"}}},
{"data": {"values": [{}]}, "mark": {"type": "rect", "fillOpacity": 0, "stroke": "black", "strokeWidth": 2.5},
 "encoding": {"x": {"datum": 0, "type": "quantitative", "scale": {"domain": [0, 8], "range": [1717.5, 2133], "nice": false, "zero": false}, "axis": null}, "x2": {"datum": 8},
   "y": {"datum": 0, "type": "quantitative", "scale": {"domain": [0, 28], "range": [51, 988], "nice": false, "zero": false}, "axis": null}, "y2": {"datum": 28}}}
],
"resolve": {"scale": {"x": "independent", "y": "independent", "fill": "independent"}}
}
